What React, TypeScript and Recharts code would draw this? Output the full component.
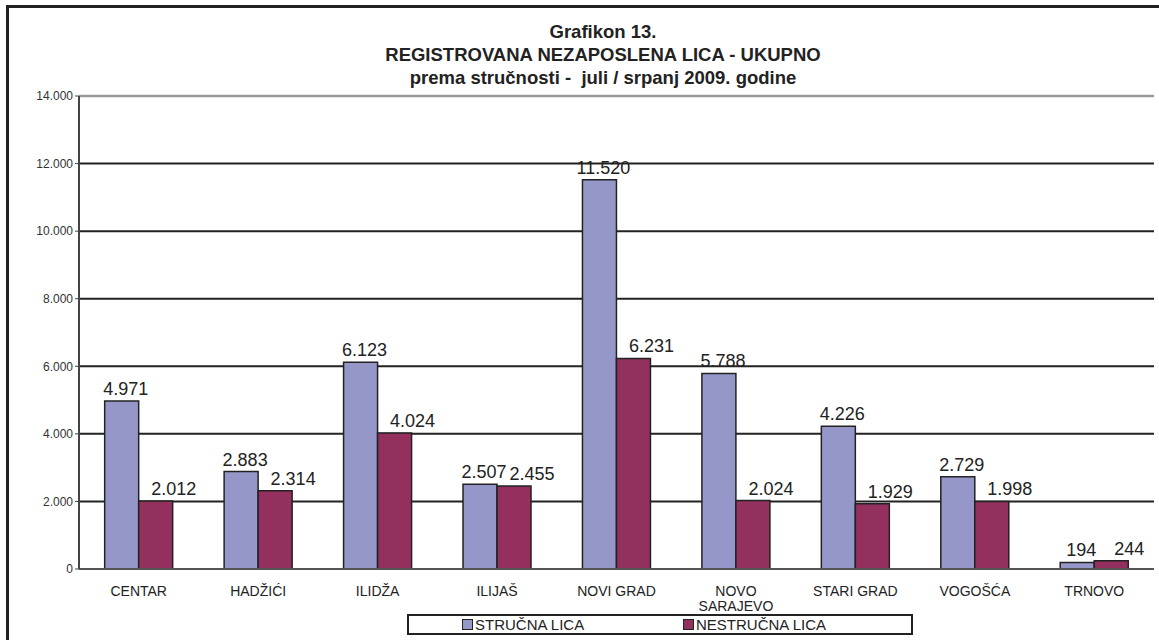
import React from 'react';
import { BarChart, Bar, XAxis, YAxis, CartesianGrid, LabelList, Legend, ReferenceLine } from 'recharts';

const categories = ['CENTAR', 'HADŽIĆI', 'ILIDŽA', 'ILIJAŠ', 'NOVI GRAD', 'NOVO SARAJEVO', 'STARI GRAD', 'VOGOŠĆA', 'TRNOVO'];
const strucna = [4971, 2883, 6123, 2507, 11520, 5788, 4226, 2729, 194];
const nestrucna = [2012, 2314, 4024, 2455, 6231, 2024, 1929, 1998, 244];
const yTicks = [0, 2000, 4000, 6000, 8000, 10000, 12000, 14000];
const titleLines = ['Grafikon 13.', 'REGISTROVANA NEZAPOSLENA LICA - UKUPNO', 'prema stručnosti -  juli / srpanj 2009. godine'];
const seriesNames = ['STRUČNA LICA', 'NESTRUČNA LICA'];
const colors = ['#9497C8', '#93305E'];

const data = categories.map((name, i) => ({ name, s: strucna[i], n: nestrucna[i] }));
const boundaryTicks = categories.map((_, i) => i).concat([categories.length]);

const FONT = '"Liberation Sans", Arial, sans-serif';
const fmt = (v: any) => {
  const n = Number(v);
  return n.toString().replace(/\B(?=(\d{3})+(?!\d))/g, '.');
};

const makeLabel = (dx: number) => (p: any) => {
  const x = Number(p.x) + Number(p.width) / 2 + dx;
  const y = Number(p.y) - 6;
  return (
    <text x={x} y={y} textAnchor="middle" fontFamily={FONT} fontSize={18} fill="#222">
      {fmt(p.value)}
    </text>
  );
};

const CatTick = (props: any) => {
  const { x, y, payload } = props;
  const label: string = payload.value;
  const lines = label.length > 10 ? label.split(' ') : [label];
  return (
    <text x={x} y={y} textAnchor="middle" fontFamily={FONT} fontSize={14} fill="#222">
      {lines.map((l, i) => (
        <tspan key={i} x={x} dy={i === 0 ? 19 : 15}>{l}</tspan>
      ))}
    </text>
  );
};

const LegendBox = () => (
  <div style={{ width: 502, height: 17, border: '2px solid #222', position: 'relative', fontFamily: FONT, fontSize: 15, color: '#222', background: '#fff' }}>
    {seriesNames.map((nm, i) => (
      <div key={nm} style={{ position: 'absolute', left: i === 0 ? 53 : 274, top: -1, display: 'flex', alignItems: 'center', whiteSpace: 'nowrap', lineHeight: '19px' }}>
        <span style={{ display: 'inline-block', width: 9, height: 9, background: colors[i], border: '1.5px solid #222', marginRight: 2 }} />
        {nm}
      </div>
    ))}
  </div>
);

export default function App() {
  return (
    <div style={{ position: 'fixed', left: 0, top: 0, width: 1159, height: 640, overflow: 'hidden', background: '#fff' }}>
      <div style={{ position: 'absolute', left: 0, top: 20, width: 1206, textAlign: 'center', fontFamily: FONT, fontWeight: 'bold', fontSize: 18.5, lineHeight: '23px', color: '#222', whiteSpace: 'pre' }}>
        {titleLines.map((t) => (<div key={t}>{t}</div>))}
      </div>
      <div style={{ position: 'absolute', left: 0, top: 0 }}>
        <BarChart width={1159} height={640} data={data} margin={{ top: 96, right: 5, left: 0, bottom: 41 }} barGap={0} barCategoryGap="21.5%">
          <CartesianGrid vertical={false} stroke="#222" strokeWidth={2} horizontalValues={[2000, 4000, 6000, 8000, 10000, 12000]} />
          <XAxis xAxisId="num" type="number" domain={[0, categories.length]} ticks={boundaryTicks} tick={false} height={0} axisLine={false} tickLine={{ stroke: '#444', strokeWidth: 1.5 }} tickSize={5} allowDataOverflow />
          <XAxis xAxisId="cat" dataKey="name" height={30} tickLine={false} axisLine={{ stroke: '#555', strokeWidth: 2 }} tick={<CatTick />} interval={0} />
          <YAxis width={79} domain={[0, 14000]} ticks={yTicks} tickFormatter={fmt} tick={{ fontFamily: FONT, fontSize: 12, fill: '#333' }} tickLine={{ stroke: '#444' }} tickSize={4} axisLine={{ stroke: '#444', strokeWidth: 2 }} interval={0} />
          <ReferenceLine xAxisId="cat" y={14000} stroke="#999" strokeWidth={2.5} />
          <ReferenceLine xAxisId="num" x={categories.length} stroke="#999" strokeWidth={2.5} />
          <Legend verticalAlign="middle" align="center" layout="horizontal" content={<LegendBox />} wrapperStyle={{ position: 'absolute', left: 407, top: 614, width: 506, height: 21 }} />
          <Bar xAxisId="cat" dataKey="s" name={seriesNames[0]} fill={colors[0]} stroke="#222" strokeWidth={1.5} isAnimationActive={false}>
            <LabelList dataKey="s" content={makeLabel(4)} />
          </Bar>
          <Bar xAxisId="cat" dataKey="n" name={seriesNames[1]} fill={colors[1]} stroke="#222" strokeWidth={1.5} isAnimationActive={false}>
            <LabelList dataKey="n" content={makeLabel(18)} />
          </Bar>
        </BarChart>
      </div>
      <div style={{ position: 'absolute', left: 6, top: 5, width: 1300, height: 3, background: '#222', zIndex: 10 }} />
      <div style={{ position: 'absolute', left: 6, top: 5, width: 3, height: 800, background: '#222', zIndex: 10 }} />
    </div>
  );
}
